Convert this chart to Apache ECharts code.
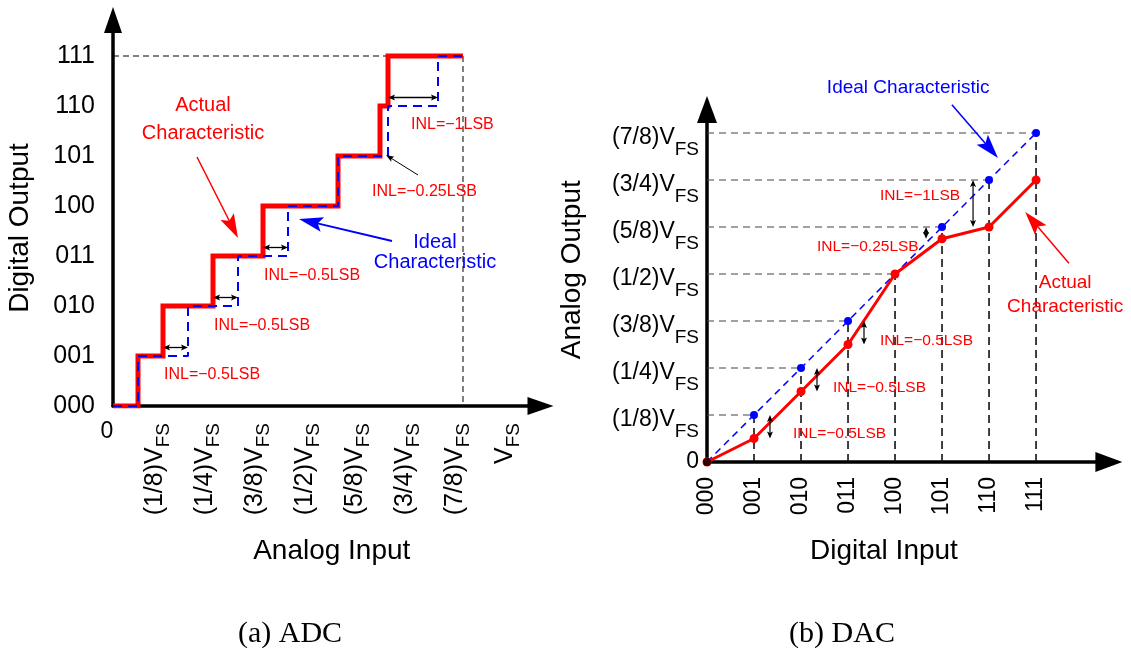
<!DOCTYPE html>
<html>
<head>
<meta charset="utf-8">
<title>ADC / DAC INL</title>
<script src="https://cdn.jsdelivr.net/npm/echarts@6/dist/echarts.min.js"></script>
<style>
html, body { margin: 0; padding: 0; background: #fff; }
#main { width: 1131px; height: 654px; }
</style>
</head>
<body>
<div id="main"></div>
<script>
var FONT = '"Liberation Sans", Arial, Helvetica, sans-serif';

// (a) ADC - codes and transition points (in LSB of analog input)
var adcCodes = ['000', '001', '010', '011', '100', '101', '110', '111'];
var adcInputLabels = ['0', '(1/8)V', '(1/4)V', '(3/8)V', '(1/2)V', '(5/8)V', '(3/4)V', '(7/8)V', 'V'];
var adcIdealEdges = [0.5, 1.5, 2.5, 3.5, 4.5, 5.5, 6.5];
var adcActualEdges = [0.5, 1, 2, 3, 4.5, 5.34, 5.5];
var adcFullScale = 7;
var adcInlMarks = [1, 2, 3, 6];   // transitions that get an INL arrow

// (b) DAC - output level for each code (in LSB)
var dacCodes = ['000', '001', '010', '011', '100', '101', '110', '111'];
var dacOutputLabels = ['0', '(1/8)V', '(1/4)V', '(3/8)V', '(1/2)V', '(5/8)V', '(3/4)V', '(7/8)V'];
var dacIdeal = [0, 1, 2, 3, 4, 5, 6, 7];
var dacActual = [0, 0.5, 1.5, 2.5, 4, 4.75, 5, 6];
var dacInlMarks = [[1, 0.34], [2, 0.34], [3, 0.34], [5, -0.34], [6, -0.34]];

// annotations
var adcRedNotes = [
    {text: 'INL=\u22120.5LSB', at: [1.02, 0.62]},
    {text: 'INL=\u22120.5LSB', at: [2.02, 1.6]},
    {text: 'INL=\u22120.5LSB', at: [3.02, 2.6]},
    {text: 'INL=\u22120.25LSB', at: [5.18, 4.28]},
    {text: 'INL=\u22121LSB', at: [5.96, 5.62]},
    {text: 'Actual\nCharacteristic', at: [1.8, 5.74], align: 'center', size: 20, lh: 28}
];
var adcBlueNotes = [
    {text: 'Ideal\nCharacteristic', at: [6.44, 3.07], align: 'center', size: 20, lh: 20}
];
var adcBlackNotes = [
    {text: '0', at: [-0.12, -0.52], align: 'center', size: 23}
];
var dacRedNotes = [
    {text: 'INL=\u22120.5LSB', at: [1.83, 0.6]},
    {text: 'INL=\u22120.5LSB', at: [2.68, 1.57]},
    {text: 'INL=\u22120.5LSB', at: [3.68, 2.57]},
    {text: 'INL=\u22120.25LSB', at: [2.34, 4.57]},
    {text: 'INL=\u22121LSB', at: [3.68, 5.66]},
    {text: 'Actual\nCharacteristic', at: [7.62, 3.55], align: 'center', size: 19, lh: 24}
];
var dacBlueNotes = [
    {text: 'Ideal Characteristic', at: [4.28, 7.96], align: 'center', size: 19}
];
var adcPointers = {
    red: [[1.68, 4.98, 2.5, 3.36]],
    blue: [[5.58, 3.3, 3.72, 3.74]],
    black: [[6.1, 4.62, 5.46, 5.02]]
};
var dacPointers = {
    red: [[7.7, 4.23, 6.77, 5.32]],
    blue: [[5.21, 7.6, 6.19, 6.47]]
};

function stairs(edges, end) {
    var pts = [[0, 0]];
    for (var i = 0; i < edges.length; i++) {
        pts.push([edges[i], i]);
        pts.push([edges[i], i + 1]);
    }
    pts.push([end, edges.length]);
    return pts;
}

function arrowHead(tip, ux, uy, o) {
    var L = o.head, W = o.headW / 2;
    var bx = tip[0] - ux * L, by = tip[1] - uy * L;
    var nx = -uy * W, ny = ux * W;
    return {
        type: 'polygon',
        shape: {points: [[tip[0], tip[1]], [bx + nx, by + ny], [tip[0] - ux * L * 0.8, tip[1] - uy * L * 0.8], [bx - nx, by - ny]]},
        style: {fill: o.color}
    };
}

// segments / arrows drawn through the axis scales: each item [x1, y1, x2, y2]
function segSeries(gi, segs, o) {
    return {
        type: 'custom', xAxisIndex: gi, yAxisIndex: gi, silent: true, z: o.z || 5,
        data: segs,
        renderItem: function (params, api) {
            var a = api.coord([api.value(0), api.value(1)]);
            var b = api.coord([api.value(2), api.value(3)]);
            var dx = b[0] - a[0], dy = b[1] - a[1], d = Math.sqrt(dx * dx + dy * dy) || 1;
            var ux = dx / d, uy = dy / d;
            var s = a, e = b, kids = [];
            if (o.head) {
                kids.push(arrowHead(b, ux, uy, o));
                e = [b[0] - ux * o.head * 0.7, b[1] - uy * o.head * 0.7];
                if (o.both) {
                    kids.push(arrowHead(a, -ux, -uy, o));
                    s = [a[0] + ux * o.head * 0.7, a[1] + uy * o.head * 0.7];
                }
            }
            kids.unshift({
                type: 'line',
                shape: {x1: s[0], y1: s[1], x2: e[0], y2: e[1]},
                style: {stroke: o.color, lineWidth: o.width, lineDash: o.dash || null}
            });
            return {type: 'group', children: kids};
        }
    };
}

function noteSeries(gi, notes, color, size) {
    return {
        type: 'custom', xAxisIndex: gi, yAxisIndex: gi, silent: true, z: 8,
        data: notes.map(function (n) { return n.at; }),
        renderItem: function (params, api) {
            var p = api.coord([api.value(0), api.value(1)]);
            var n = notes[params.dataIndex];
            var fs = n.size || size;
            return {
                type: 'text', x: p[0], y: p[1],
                style: {
                    text: n.text, fill: color, font: fs + 'px ' + FONT,
                    align: n.align || 'left', verticalAlign: 'middle', lineHeight: n.lh || fs
                }
            };
        }
    };
}

var vfsRich = function (mainSize, subSize, mainPad, subPad) {
    return {
        m: {fontSize: mainSize, fontFamily: FONT, color: '#000', padding: mainPad},
        s: {fontSize: subSize, fontFamily: FONT, color: '#000', padding: subPad},
        z: {fontSize: 23, fontFamily: FONT, color: '#000'}
    };
};

var axisLineStyle = {color: '#000', width: 3.5};
var nameStyle = function (pad) {
    return {fontSize: 28, fontFamily: FONT, color: '#000', padding: pad};
};

// build segment lists from the data
var adcGuides = [[0, adcFullScale, adcFullScale, adcFullScale], [adcFullScale, adcFullScale, adcFullScale, 0]];
var adcInl = adcInlMarks.map(function (i) {
    return [adcActualEdges[i], i + 0.17, adcIdealEdges[i], i + 0.17];
});
var dacHGuides = [], dacVGuides = [];
for (var k = 1; k < dacIdeal.length; k++) {
    dacHGuides.push([0, dacIdeal[k], k, dacIdeal[k]]);
    dacVGuides.push([k, 0, k, dacIdeal[k]]);
}
var dacInl = dacInlMarks.map(function (m) {
    return [m[0] + m[1], dacIdeal[m[0]], m[0] + m[1], dacActual[m[0]]];
});

var chart = echarts.init(document.getElementById('main'));
chart.setOption({
    backgroundColor: '#fff',
    animation: false,
    grid: [
        {left: 113, top: 20, width: 427.5, height: 386, containLabel: false, outerBoundsMode: 'none'},
        {left: 707, top: 109.5, width: 401.9, height: 352.5, containLabel: false, outerBoundsMode: 'none'}
    ],
    xAxis: [
        {
            gridIndex: 0, type: 'value', min: 0, max: 8.55, interval: 1,
            axisLine: {show: true, onZero: false, symbol: ['none', 'triangle'], symbolSize: [18, 26], lineStyle: axisLineStyle},
            axisTick: {show: false}, splitLine: {show: false},
            axisLabel: {
                rotate: 90, margin: 17, showMaxLabel: false, hideOverlap: false,
                formatter: function (v) {
                    if (v < 1 || v > 8 || v % 1) return '';
                    return '{m|' + adcInputLabels[v] + '}{s|FS}';
                },
                rich: vfsRich(25, 19, [0, 0, 15, 0], [1, 0, 0, 0])
            },
            name: 'Analog Input', nameLocation: 'middle', nameGap: 131, nameMoveOverlap: false,
            nameTextStyle: nameStyle([0, 0, 0, 10])
        },
        {
            gridIndex: 1, type: 'value', min: 0, max: 8.55, interval: 1,
            axisLine: {show: true, onZero: false, symbol: ['none', 'triangle'], symbolSize: [20, 27], lineStyle: axisLineStyle},
            axisTick: {show: false}, splitLine: {show: false},
            axisLabel: {
                rotate: 90, margin: 15, showMaxLabel: false, hideOverlap: false,
                fontSize: 23, fontFamily: FONT, color: '#000',
                formatter: function (v) { return (v % 1 || v > 7) ? '' : dacCodes[v]; }
            },
            name: 'Digital Input', nameLocation: 'middle', nameGap: 75, nameMoveOverlap: false,
            nameTextStyle: nameStyle([0, 48, 0, 0])
        }
    ],
    yAxis: [
        {
            gridIndex: 0, type: 'value', min: 0, max: 7.72, interval: 1,
            axisLine: {show: true, onZero: false, symbol: ['none', 'triangle'], symbolSize: [18, 26], lineStyle: axisLineStyle},
            axisTick: {show: false}, splitLine: {show: false},
            axisLabel: {
                margin: 18, fontSize: 25, fontFamily: FONT, color: '#000', showMaxLabel: false, hideOverlap: false,
                formatter: function (v) { return (v % 1 || v > 7) ? '' : adcCodes[v]; }
            },
            name: 'Digital Output', nameLocation: 'middle', nameRotate: 90, nameGap: 79, nameMoveOverlap: false,
            nameTextStyle: nameStyle([0, 30, 0, 0])
        },
        {
            gridIndex: 1, type: 'value', min: 0, max: 7.5, interval: 1,
            axisLine: {show: true, onZero: false, symbol: ['none', 'triangle'], symbolSize: [20, 27], lineStyle: axisLineStyle},
            axisTick: {show: false}, splitLine: {show: false},
            axisLabel: {
                margin: 8, showMaxLabel: false, hideOverlap: false,
                formatter: function (v) {
                    if (v % 1 || v > 7) return '';
                    if (v === 0) return '{z|0}';
                    return '{m|' + dacOutputLabels[v] + '}{s|FS}';
                },
                rich: vfsRich(23, 19, [10, 0, 0, 0], [34, 0, 0, 0])
            },
            name: 'Analog Output', nameLocation: 'middle', nameRotate: 90, nameGap: 121, nameMoveOverlap: false,
            nameTextStyle: nameStyle([0, 0, 0, 32])
        }
    ],
    graphic: [
        {type: 'text', x: 290, y: 634, style: {text: '(a) ADC', font: '30px "Liberation Serif", "Times New Roman", serif', fill: '#000', align: 'center', verticalAlign: 'middle'}},
        {type: 'text', x: 842, y: 634, style: {text: '(b) DAC', font: '30px "Liberation Serif", "Times New Roman", serif', fill: '#000', align: 'center', verticalAlign: 'middle'}}
    ],
    series: [
        // ---- ADC ----
        segSeries(0, adcGuides, {color: '#000', width: 1, dash: [6, 4], z: 1}),
        {
            type: 'line', name: 'Actual', xAxisIndex: 0, yAxisIndex: 0, z: 3,
            data: stairs(adcActualEdges, adcFullScale), symbol: 'none',
            lineStyle: {color: '#ff0000', width: 5, cap: 'butt', join: 'miter'}
        },
        {
            type: 'line', name: 'Ideal', xAxisIndex: 0, yAxisIndex: 0, z: 4,
            data: stairs(adcIdealEdges, adcFullScale), symbol: 'none',
            lineStyle: {color: '#0000ff', width: 2, type: [9, 6]}
        },
        segSeries(0, adcInl, {color: '#000', width: 1.3, head: 7, headW: 6, both: true}),
        segSeries(0, adcPointers.black, {color: '#000', width: 1, head: 8, headW: 6}),
        segSeries(0, adcPointers.red, {color: '#ff0000', width: 1.5, head: 24, headW: 15}),
        segSeries(0, adcPointers.blue, {color: '#0000ff', width: 2, head: 24, headW: 15}),
        noteSeries(0, adcRedNotes, '#ff0000', 16),
        noteSeries(0, adcBlueNotes, '#0000ff', 20),
        noteSeries(0, adcBlackNotes, '#000', 23),

        // ---- DAC ----
        segSeries(1, dacHGuides, {color: '#444', width: 1.2, dash: [7, 5], z: 1}),
        segSeries(1, dacVGuides, {color: '#111', width: 1.6, dash: [8, 5], z: 1}),
        {
            type: 'line', name: 'Ideal', xAxisIndex: 1, yAxisIndex: 1, z: 3,
            data: dacIdeal.map(function (v, i) { return [i, v]; }),
            symbol: 'circle', symbolSize: 8, showSymbol: true,
            itemStyle: {color: '#0000ff'},
            lineStyle: {color: '#0000ff', width: 1.5, type: [7, 5]}
        },
        {
            type: 'line', name: 'Actual', xAxisIndex: 1, yAxisIndex: 1, z: 4,
            data: dacActual.map(function (v, i) { return [i, v]; }),
            symbol: 'circle', symbolSize: 9, showSymbol: true,
            itemStyle: {color: '#ff0000'},
            lineStyle: {color: '#ff0000', width: 3}
        },
        {
            type: 'scatter', xAxisIndex: 1, yAxisIndex: 1, z: 6,
            data: [[0, 0]], symbolSize: 8, itemStyle: {color: '#000'}
        },
        segSeries(1, dacInl, {color: '#000', width: 1.2, head: 7, headW: 6, both: true}),
        segSeries(1, dacPointers.red, {color: '#ff0000', width: 1.5, head: 24, headW: 15}),
        segSeries(1, dacPointers.blue, {color: '#0000ff', width: 1.5, head: 24, headW: 15}),
        noteSeries(1, dacRedNotes, '#ff0000', 15.5),
        noteSeries(1, dacBlueNotes, '#0000ff', 19)
    ]
});
</script>
</body>
</html>
